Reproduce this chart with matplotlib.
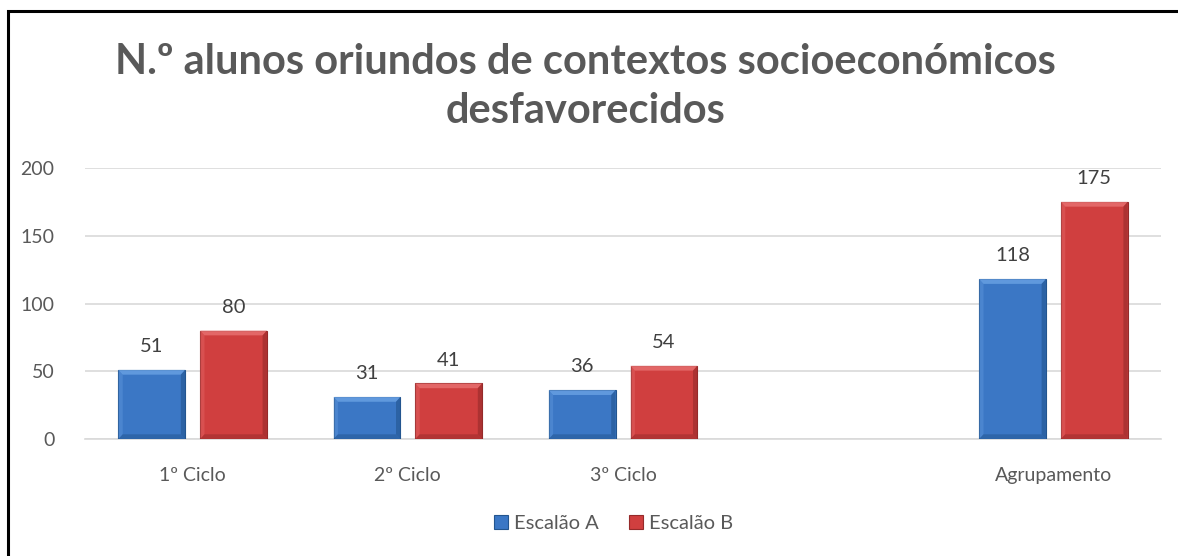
import numpy as np
import matplotlib.pyplot as plt
from matplotlib.patches import Polygon, Rectangle

categories = ["1º Ciclo", "2º Ciclo", "3º Ciclo", "", "Agrupamento"]
escalao_a = [51, 31, 36, None, 118]
escalao_b = [80, 41, 54, None, 175]
yticks = [0, 50, 100, 150, 200]

plt.rcParams['font.family'] = ['Lato', 'DejaVu Sans']

fig = plt.figure(figsize=(11.78, 5.56), dpi=100)
ax = fig.add_axes([0.0722, 0.2104, 0.9134, 0.4874])

x = np.arange(len(categories))
w = 0.31
off = 0.19

def bevel(bar, light, dark):
    # soft bevel: lighter top band, darker right/bottom edges
    x0, y0 = bar.get_x(), bar.get_y()
    x1, y1 = x0 + bar.get_width(), y0 + bar.get_height()
    dx, dy = 0.02, 3.5
    ax.add_patch(Polygon([(x0, y1), (x1, y1), (x1 - dx, y1 - dy), (x0 + dx, y1 - dy)],
                         closed=True, fc=light, ec='none', alpha=0.8, zorder=4))
    ax.add_patch(Polygon([(x0, y0), (x0, y1), (x0 + dx, y1 - dy), (x0 + dx, y0 + dy)],
                         closed=True, fc=light, ec='none', alpha=0.35, zorder=4))
    ax.add_patch(Polygon([(x1, y0), (x1, y1), (x1 - dx, y1 - dy), (x1 - dx, y0 + dy)],
                         closed=True, fc=dark, ec='none', alpha=0.6, zorder=4))
    ax.add_patch(Polygon([(x0, y0), (x1, y0), (x1 - dx, y0 + dy), (x0 + dx, y0 + dy)],
                         closed=True, fc=dark, ec='none', alpha=0.5, zorder=4))

series = [(escalao_a, -off, "#3b77c5", "#6aa2e4", "#23558f", "Escalão A"),
          (escalao_b, off, "#d03f3f", "#e87272", "#952a2a", "Escalão B")]

for vals, o, col, light, dark, lab in series:
    first = True
    for i, v in enumerate(vals):
        if v is None:
            continue
        b = ax.bar(x[i] + o, v, width=w, color=col, edgecolor=dark, linewidth=0.8,
                   zorder=3, label=lab if first else None)[0]
        first = False
        bevel(b, light, dark)
        ax.text(x[i] + o, v + 11, str(v), ha='center', va='bottom',
                fontsize=14.5, color='#404040')

ax.set_xlim(-0.5, len(categories) - 0.5)
ax.set_ylim(0, 200)
ax.set_yticks(yticks)
ax.set_xticks(x)
ax.set_xticklabels(categories)
ax.tick_params(axis='both', length=0, labelsize=14, colors='#595959')
ax.tick_params(axis='y', pad=22)
ax.tick_params(axis='x', pad=20)
ax.yaxis.grid(True, color='#d9d9d9', linewidth=1.2)
ax.set_axisbelow(True)
for s in ['top', 'right', 'left']:
    ax.spines[s].set_visible(False)
ax.spines['bottom'].set_color('#d9d9d9')
ax.spines['bottom'].set_linewidth(1.2)

fig.text(0.497, 0.845, "N.º alunos oriundos de contextos socioeconómicos\ndesfavorecidos",
         ha='center', va='center', fontsize=30, fontweight='bold', color='#595959',
         linespacing=1.35)

fig.legend(loc='center', bbox_to_anchor=(0.521, 0.058), ncol=2, frameon=False,
           fontsize=14.5, handlelength=0.7, handleheight=0.7, handletextpad=0.3,
           columnspacing=1.5, labelcolor='#595959')

fig.patches.append(Rectangle((8 / 1178, -0.1), 1.2, 1 - 11 / 556 + 0.1, transform=fig.transFigure,
                             fill=False, ec='black', lw=2.2, zorder=10))

fig.savefig('out.png', dpi=100)
